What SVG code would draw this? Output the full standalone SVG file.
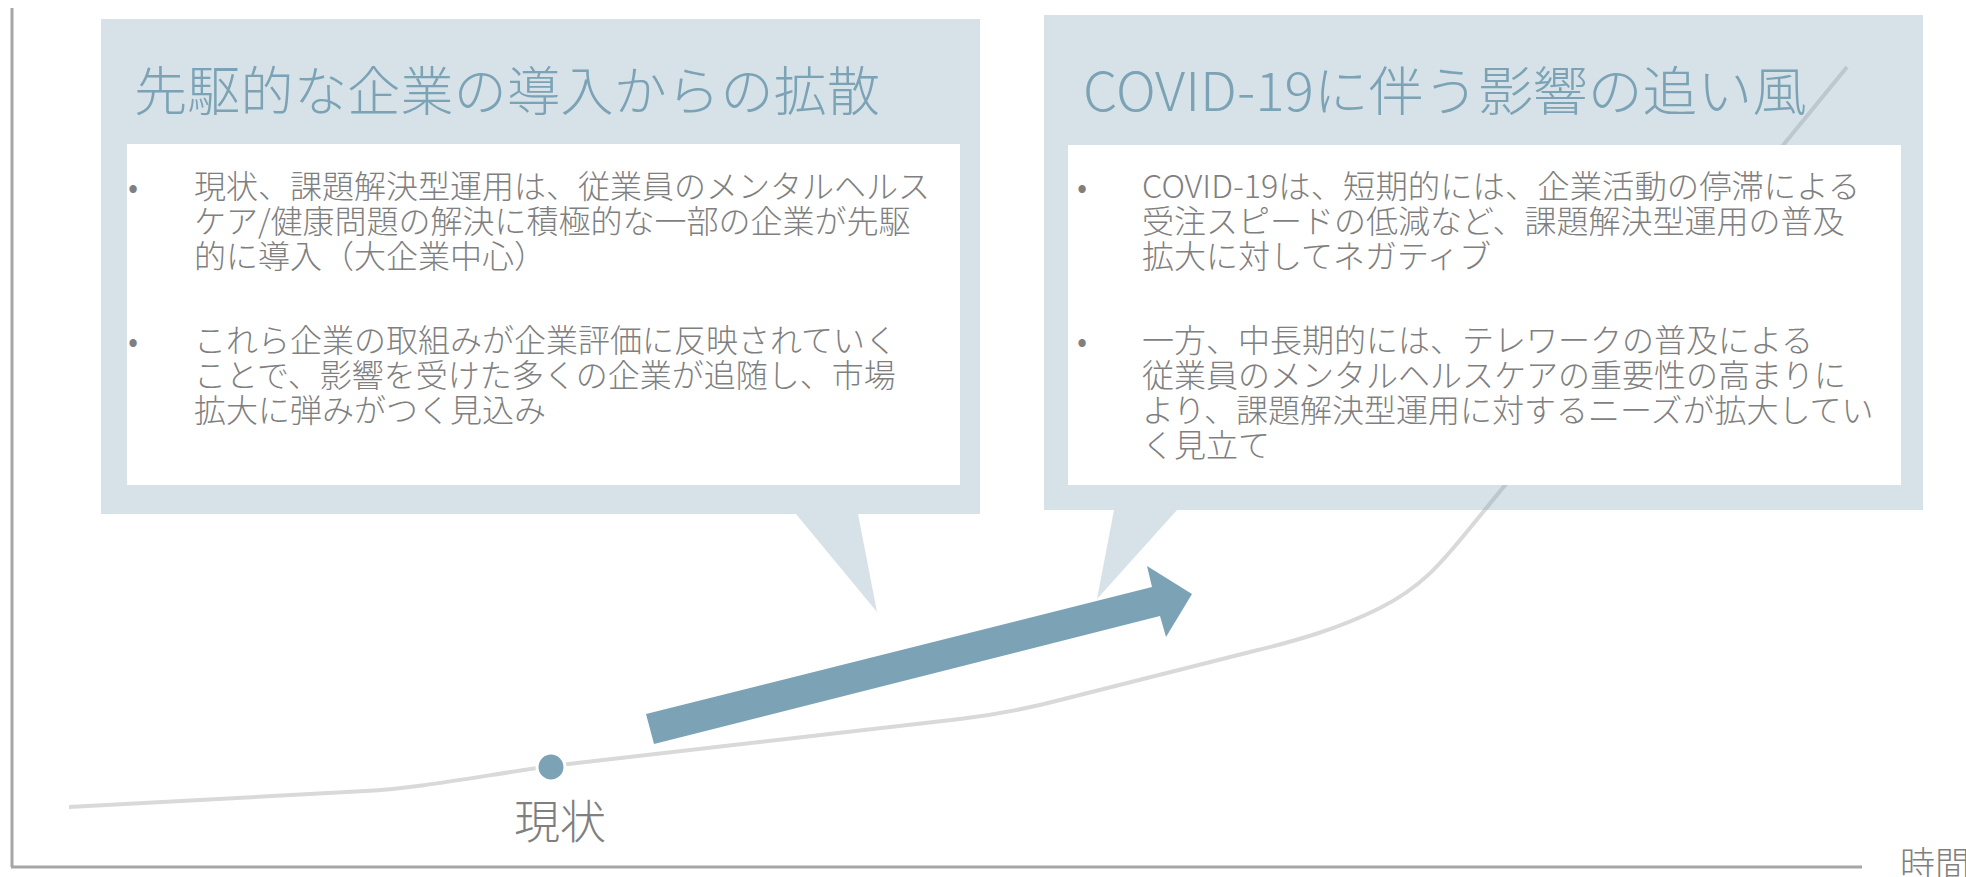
<svg xmlns="http://www.w3.org/2000/svg" width="1966" height="877" viewBox="0 0 1966 877">
<style>
.axis{stroke:#A6A6A6;stroke-width:3;fill:none}
.curve{stroke:#D9D9D9;stroke-width:4;fill:none}
.bubble{fill:#7BA3B5;fill-opacity:0.31}
.inner{fill:#FFFFFF}
.title{font-family:"Noto Sans CJK JP","Noto Sans",sans-serif;font-weight:300;font-size:53px;fill:#7BA3B5}
.body{font-family:"Noto Sans CJK JP","Noto Sans",sans-serif;font-weight:300;font-size:32px;fill:#7F7F7F}
.label{font-family:"Noto Sans CJK JP","Noto Sans",sans-serif;font-weight:300;fill:#7F7F7F}
</style>
<rect width="1966" height="877" fill="#FFFFFF"/>
<g id="axes">
<line class="axis" x1="12" y1="8" x2="12" y2="867"/>
<line class="axis" x1="11" y1="867" x2="1862" y2="867"/>
<text class="label" x="1900" y="877" font-size="35">時間</text>
</g>
<g id="connectors">
<path class="curve" d="M69,807 L365,791 C420,788 480,776 551,766 L960,719 C1000,714 1030,708 1060,700 L1250,652 C1300,640 1340,628 1380,608 C1420,588 1440,565 1470,528 L1847,67"/>
</g>
<g id="box-left">
<path class="bubble" d="M101,19 H980 V514 H858 L877,612 L796,514 H101 Z"/>
<rect class="inner" x="127" y="144" width="833" height="341"/>
<text class="title" x="134" y="111" textLength="746" lengthAdjust="spacing">先駆的な企業の導入からの拡散</text>
<text class="body" x="128" y="198">•</text>
<text class="body" x="194" y="198">現状、課題解決型運用は、従業員のメンタルヘルス</text>
<text class="body" x="194" y="233">ケア/健康問題の解決に積極的な一部の企業が先駆</text>
<text class="body" x="194" y="268">的に導入（大企業中心）</text>
<text class="body" x="128" y="352">•</text>
<text class="body" x="194" y="352">これら企業の取組みが企業評価に反映されていく</text>
<text class="body" x="194" y="387">ことで、影響を受けた多くの企業が追随し、市場</text>
<text class="body" x="194" y="422">拡大に弾みがつく見込み</text>
</g>
<g id="box-right">
<path class="bubble" d="M1044,15 H1923 V510 H1177 L1097,599 L1114,510 H1044 Z"/>
<rect class="inner" x="1068" y="145" width="833" height="340"/>
<text class="title" x="1083" y="111" textLength="724" lengthAdjust="spacingAndGlyphs">COVID-19に伴う影響の追い風</text>
<text class="body" x="1077" y="198">•</text>
<text class="body" x="1142" y="198" textLength="718" lengthAdjust="spacingAndGlyphs">COVID-19は、短期的には、企業活動の停滞による</text>
<text class="body" x="1142" y="233">受注スピードの低減など、課題解決型運用の普及</text>
<text class="body" x="1142" y="268">拡大に対してネガティブ</text>
<text class="body" x="1077" y="352">•</text>
<text class="body" x="1142" y="352">一方、中長期的には、テレワークの普及による</text>
<text class="body" x="1142" y="387">従業員のメンタルヘルスケアの重要性の高まりに</text>
<text class="body" x="1142" y="422">より、課題解決型運用に対するニーズが拡大してい</text>
<text class="body" x="1142" y="457">く見立て</text>
</g>
<g id="arrow">
<polygon fill="#7BA3B5" points="646,714 1152,587 1147,566 1192,594 1166,637 1160,616 654,744"/>
</g>
<g id="current">
<circle cx="551" cy="767" r="14" fill="#7BA3B5" stroke="#FFFFFF" stroke-width="3"/>
<text class="label" x="560" y="838" font-size="46" text-anchor="middle">現状</text>
</g>
</svg>
